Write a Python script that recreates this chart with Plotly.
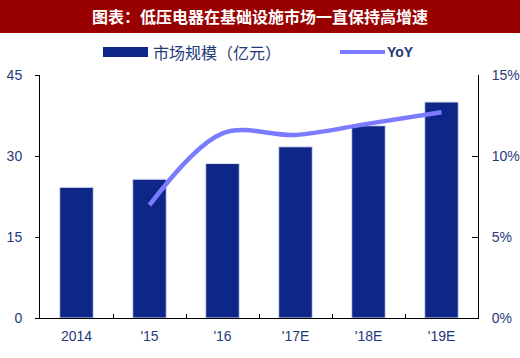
import plotly.graph_objects as go

categories = ["2014", "'15", "'16", "'17E", "'18E", "'19E"]
market_size = [24.2, 25.7, 28.6, 31.7, 35.6, 40.0]
yoy_cats = ["'15", "'16", "'17E", "'18E", "'19E"]
yoy = [0.0697, 0.114, 0.113, 0.120, 0.127]

title_text = "图表：低压电器在基础设施市场一直保持高增速"
legend_bar = "市场规模（亿元）"
legend_line = "YoY"

navy = "#0F2689"
line_c = "#7B7BFF"
txt_c = "#1F3A78"

fig = go.Figure()
fig.add_trace(go.Bar(x=categories, y=market_size, marker=dict(color=navy, line=dict(color="#DDE2F0", width=1)),
                     width=0.46, name=legend_bar, showlegend=False))
fig.add_trace(go.Scatter(x=yoy_cats, y=yoy, yaxis="y2", mode="lines",
                         line=dict(color=line_c, width=4.5, shape="spline", smoothing=1.0),
                         name=legend_line, showlegend=False))

fig.update_layout(
    width=520, height=358,
    margin=dict(l=40, r=42, t=75, b=40),
    paper_bgcolor="white", plot_bgcolor="white",
    font=dict(family="Liberation Sans, Arial, sans-serif", size=13, color=txt_c),
    xaxis=dict(showline=True, linecolor="black", linewidth=1, ticks="inside", tickson="boundaries",
               ticklen=4, tickcolor="black", showgrid=False, tickfont=dict(size=14, color=txt_c),
               ticklabelstandoff=5, automargin=False),
    yaxis=dict(range=[0, 45], dtick=15, showline=True, linecolor="black", linewidth=1, ticks="outside",
               ticklen=4, tickcolor="black", showgrid=False, zeroline=False,
               tickfont=dict(size=14, color=txt_c), ticklabelstandoff=10, automargin=False),
    yaxis2=dict(range=[0, 0.15], dtick=0.05, tickformat=".0%", overlaying="y", side="right",
                showline=True, linecolor="black", linewidth=1, ticks="inside", ticklen=6,
                tickcolor="black", showgrid=False, zeroline=False,
                tickfont=dict(size=14, color=txt_c), ticklabelstandoff=10, automargin=False),
    shapes=[
        dict(type="rect", xref="paper", yref="paper", x0=-40/438, x1=1+42/438,
             y0=(318-33)/243, y1=(318+2)/243, fillcolor="#990000", line=dict(width=0), layer="below"),
        dict(type="rect", xref="paper", yref="paper", x0=(103-40)/438, x1=(148-40)/438,
             y0=(318-57)/243, y1=(318-47)/243, fillcolor=navy, line=dict(width=0)),
        dict(type="line", xref="paper", yref="paper", x0=(340-40)/438, x1=(385-40)/438,
             y0=(318-52)/243, y1=(318-52)/243, line=dict(color=line_c, width=4)),
    ],
    annotations=[
        dict(text="<b>" + title_text + "</b>", xref="paper", yref="paper", x=(260-40)/438, y=(318-16)/243,
             showarrow=False, xanchor="center", yanchor="middle",
             font=dict(family="Noto Sans CJK SC", size=16, color="white")),
        dict(text=legend_bar, xref="paper", yref="paper", x=(151-40)/438, y=(318-52)/243,
             showarrow=False, xanchor="left", yanchor="middle",
             font=dict(family="Noto Sans CJK SC", size=16, color=txt_c)),
        dict(text="<b>" + legend_line + "</b>", xref="paper", yref="paper", x=(385-40)/438, y=(318-52)/243,
             showarrow=False, xanchor="left", yanchor="middle",
             font=dict(family="Liberation Sans", size=14, color=txt_c)),
    ],
)

fig.write_html("out.html", config={"displayModeBar": False},
               post_script="document.body.style.margin='0';")
